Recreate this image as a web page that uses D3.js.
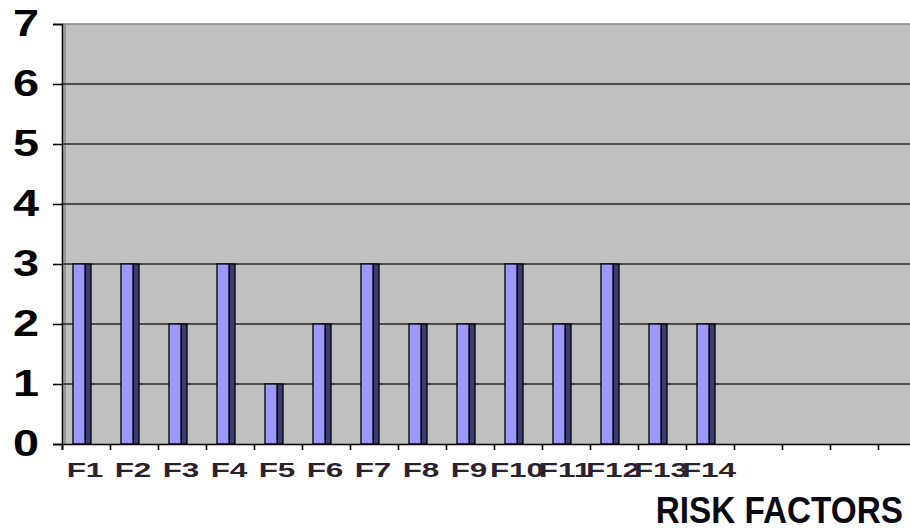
<!DOCTYPE html>
<html>
<head>
<meta charset="utf-8">
<script src="https://cdn.jsdelivr.net/npm/d3@7"></script>
<style>
  html, body { margin: 0; padding: 0; background: #fff; }
  svg { display: block; }
  text { font-family: Arial, "Liberation Sans", sans-serif; }
</style>
</head>
<body>
<svg id="chart" width="910" height="530"></svg>
<script>
// Risk factor scores
const categories = ["F1","F2","F3","F4","F5","F6","F7","F8","F9","F10","F11","F12","F13","F14"];
const values     = [3, 3, 2, 3, 1, 2, 3, 2, 2, 3, 2, 3, 2, 2];
const yTicks     = [0, 1, 2, 3, 4, 5, 6, 7];
const slotCount  = 18;   // category slots on the axis (extra slots stay empty)
const axisTitle  = "RISK FACTORS";

const svg = d3.select("#chart");
const W = 910;

const x0 = 62, slotW = 48;
const x = d3.scaleLinear().domain([0, slotCount]).range([x0, x0 + slotCount * slotW]);
const y = d3.scaleLinear().domain([0, 7]).range([444, 24]);

// plot background
svg.append("rect")
  .attr("x", x(0) + 1).attr("y", y(7))
  .attr("width", W - x(0)).attr("height", y(0) - y(7))
  .attr("fill", "#c0c0c0");

// wall edge just inside the value axis
svg.append("line")
  .attr("x1", x(0) + 3).attr("x2", x(0) + 3)
  .attr("y1", y(7)).attr("y2", y(0))
  .attr("stroke", "#6e6e6e").attr("stroke-width", 1);

// top border
svg.append("line")
  .attr("x1", x(0)).attr("x2", W)
  .attr("y1", y(7)).attr("y2", y(7))
  .attr("stroke", "#8a8a8a").attr("stroke-width", 1.5);

// horizontal gridlines
svg.append("g").selectAll("line")
  .data(yTicks.filter(t => t > 0 && t < 7))
  .join("line")
  .attr("x1", x(0)).attr("x2", W)
  .attr("y1", d => y(d)).attr("y2", d => y(d))
  .attr("stroke", "#262626").attr("stroke-width", 1.6);

// bars: light front face plus dark side face
const bars = svg.append("g");
categories.forEach((c, i) => {
  const left = x(i) + 11;
  const top = y(values[i]);
  const h = y(0) - top;
  bars.append("rect")
    .attr("x", left + 12).attr("y", top)
    .attr("width", 6).attr("height", h)
    .attr("fill", "#3d3d74").attr("stroke", "#000").attr("stroke-width", 1.3);
  bars.append("rect")
    .attr("x", left).attr("y", top)
    .attr("width", 12).attr("height", h)
    .attr("fill", "#9999ff").attr("stroke", "#000").attr("stroke-width", 1.3);
});

// value axis
const yAxis = d3.axisLeft(y).tickValues(yTicks).tickSize(9).tickFormat("");
svg.append("g")
  .attr("transform", `translate(${x(0)},0)`)
  .call(yAxis)
  .call(g => g.selectAll("path,line").attr("stroke", "#000").attr("stroke-width", 1.6));

// category axis
const xAxis = d3.axisBottom(x).tickValues(d3.range(0, slotCount + 1)).tickSize(6).tickFormat("");
svg.append("g")
  .attr("transform", `translate(0,${y(0)})`)
  .call(xAxis)
  .call(g => g.selectAll("path,line").attr("stroke", "#000").attr("stroke-width", 1.6));

// value labels (wide bold digits)
svg.append("g").selectAll("text")
  .data(yTicks)
  .join("text")
  .attr("transform", d => `translate(39,${y(d) + 12}) scale(1.3,1)`)
  .attr("text-anchor", "end")
  .attr("font-size", 36).attr("font-weight", "bold")
  .attr("fill", "#000")
  .text(d => d);

// category labels
svg.append("g").selectAll("text")
  .data(categories)
  .join("text")
  .attr("transform", (d, i) => `translate(${x(i + 0.5) - 1},477) scale(1.5,1)`)
  .attr("text-anchor", "middle")
  .attr("font-size", 21).attr("font-weight", "bold")
  .attr("fill", "#2a2230")
  .text(d => d);

// axis title
svg.append("text")
  .attr("transform", "translate(903,523) scale(0.9,1)")
  .attr("text-anchor", "end")
  .attr("font-size", 37).attr("font-weight", "bold")
  .attr("fill", "#0a0a14")
  .text(axisTitle);
</script>
</body>
</html>
